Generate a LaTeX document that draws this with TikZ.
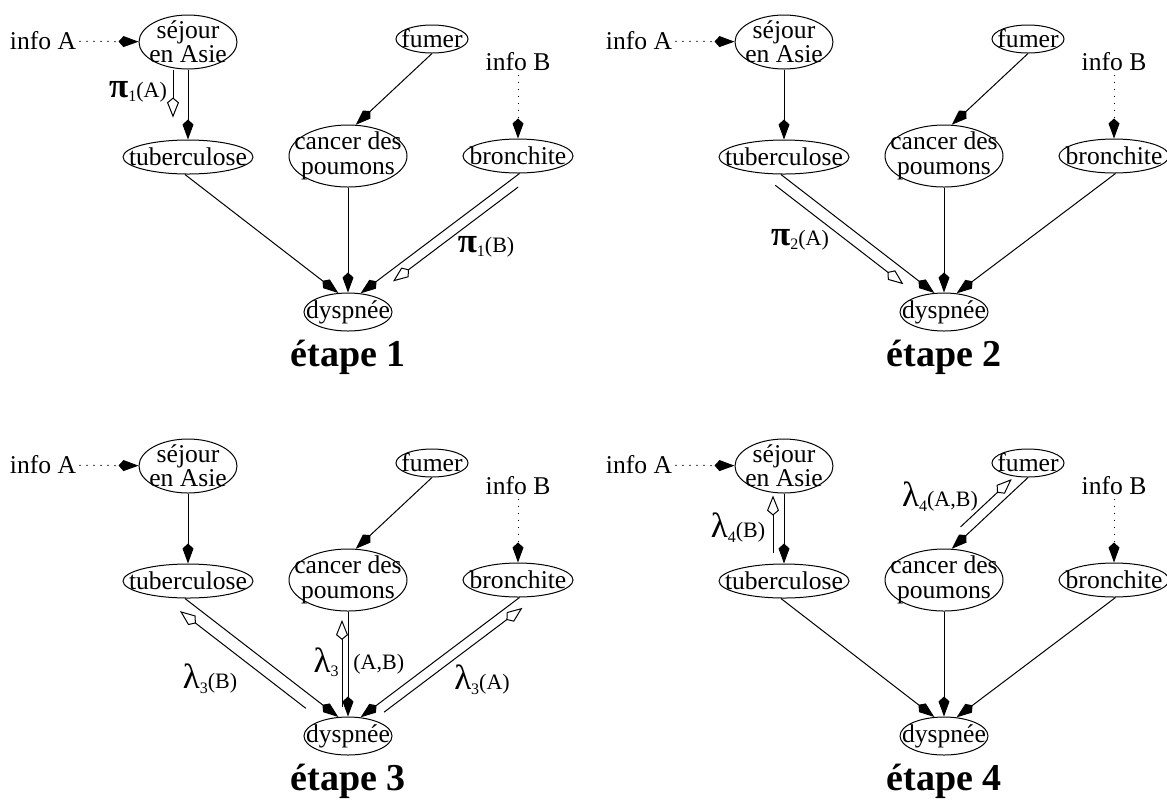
\documentclass[tikz,border=0pt]{standalone}
\usepackage{fontspec}
\setmainfont{Liberation Serif}
\usetikzlibrary{arrows.meta,calc,shapes.geometric}

\tikzset{
  ell/.style={draw, ellipse, inner sep=0pt, line width=0.5pt},
  txt/.style={inner sep=1.5pt, align=center, font=\fontsize{12.8}{12.2}\selectfont},
  edge/.style={line width=0.5pt, -{Kite[length=10pt,width=5.5pt,inset=2.5pt]}},
  infoedge/.style={edge, dash pattern=on 0.6pt off 2.9pt},
  msg/.style={line width=0.5pt, -{Kite[length=10pt,width=6pt,inset=2.5pt,fill=white]}},
  lbl/.style={inner sep=0pt},
  stage/.style={inner sep=0pt, font=\fontsize{19}{20}\selectfont\bfseries},
}

% Greek message name with index and evidence set
\newcommand\gk[3]{{\fontsize{17.5}{18}\selectfont #1}\raisebox{-0.45ex}{\fontsize{8}{8}\selectfont #2}{\fontsize{11}{12}\selectfont #3}}

% One copy of the network; #1,#2 shift, #3 name prefix, #4 stage number, #5 messages
\newcommand\network[5]{%
\begin{scope}[shift={(#1,#2)}, name prefix=#3-]
  \node[txt] (ia) at (43,41) {info A};
  \node[ell, minimum width=49pt, minimum height=27pt,
        label={[txt]center:{séjour\\en Asie}}] (sej) at (188,42) {};
  \node[ell, minimum width=36pt, minimum height=14pt,
        label={[txt]center:fumer}] (fum) at (432,39) {};
  \node[txt] (ib) at (518,62) {info B};
  \node[ell, minimum width=65pt, minimum height=17pt,
        label={[txt]center:tuberculose}] (tub) at (188,157) {};
  \node[ell, minimum width=59pt, minimum height=31pt,
        label={[txt]center:{cancer des\\poumons}}] (can) at (348,156) {};
  \node[ell, minimum width=55pt, minimum height=17pt,
        label={[txt]center:bronchite}] (bro) at (518,156) {};
  \node[ell, minimum width=44pt, minimum height=19pt,
        label={[txt]center:dyspnée}] (dys) at (348,312) {};
  \node[stage] (st) at (348,357) {étape #4};
  \draw[infoedge] (ia) -- (sej);
  \draw[edge] (sej) -- (tub);
  \draw[edge] (fum.south) -- (can.76);
  \draw[infoedge] (ib) -- (bro);
  \draw[edge] (tub.-100) -- (dys.117);
  \draw[edge] (can) -- (dys);
  \draw[edge] (bro.-85) -- (dys.56);
  #5
\end{scope}}

\begin{document}
\begin{tikzpicture}[x=0.5pt, y=-0.5pt]
\useasboundingbox (0,0) rectangle (1167,800);

% stage 1
\network{0}{0}{s1}{1}{%
  \coordinate (ma1) at ($(sej.south)!0pt!(tub.north)!7.5pt!-90:(tub.north)$);
  \coordinate (mb1) at ($(sej.south)!24pt!(tub.north)!7.5pt!-90:(tub.north)$);
  \draw[msg] (ma1) -- (mb1);
  \node[lbl] (la) at (138,92) {\gk{\bfseries π}{1}{(A)}};
  \coordinate (ma2) at ($(bro.-85)!4.7pt!(dys.56)!5pt!90:(dys.56)$);
  \coordinate (mb2) at ($(bro.-85)!83pt!(dys.56)!5pt!90:(dys.56)$);
  \draw[msg] (ma2) -- (mb2);
  \node[lbl] (lb) at (486,247) {\gk{\bfseries π}{1}{(B)}};
}

% stage 2
\network{596}{0}{s2}{2}{%
  \coordinate (ma1) at ($(tub.-100)!1pt!(dys.117)!6pt!-90:(dys.117)$);
  \coordinate (mb1) at ($(tub.-100)!82pt!(dys.117)!6pt!-90:(dys.117)$);
  \draw[msg] (ma1) -- (mb1);
  \node[lbl] (la) at (204,240) {\gk{\bfseries π}{2}{(A)}};
}

% stage 3
\network{0}{424}{s3}{3}{%
  \coordinate (ma1) at ($(tub.-100)!0.84!(dys.117)!6.5pt!-90:(dys.117)$);
  \coordinate (mb1) at ($(tub.-100)!0.02!(dys.117)!6.5pt!-90:(dys.117)$);
  \draw[msg] (ma1) -- (mb1);
  \node[lbl] (la) at (210,255) {\gk{λ}{3}{(B)}};
  \coordinate (ma2) at ($(can.south)!0.91!(dys.north)!3pt!-90:(dys.north)$);
  \coordinate (mb2) at ($(can.south)!0.08!(dys.north)!3pt!-90:(dys.north)$);
  \draw[msg] (ma2) -- (mb2);
  \node[lbl, anchor=east] (lc) at (339,238) {\gk{λ}{3}{}};
  \node[lbl, anchor=west, font=\fontsize{11}{12}\selectfont] (ld) at (353,240) {(A,B)};
  \coordinate (ma3) at ($(bro.-85)!0.89!(dys.56)!5pt!90:(dys.56)$);
  \coordinate (mb3) at ($(bro.-85)!0.02!(dys.56)!5pt!90:(dys.56)$);
  \draw[msg] (ma3) -- (mb3);
  \node[lbl] (lb) at (482,256) {\gk{λ}{3}{(A)}};
}

% stage 4
\network{596}{424}{s4}{4}{%
  \coordinate (ma1) at ($(sej.south)!29.5pt!(tub.north)!5.5pt!-90:(tub.north)$);
  \coordinate (mb1) at ($(sej.south)!1pt!(tub.north)!5.5pt!-90:(tub.north)$);
  \draw[msg] (ma1) -- (mb1);
  \node[lbl] (la) at (142,104) {\gk{λ}{4}{(B)}};
  \coordinate (ma2) at ($(fum.south)!41.5pt!(can.76)!5pt!-90:(can.76)$);
  \coordinate (mb2) at ($(fum.south)!6.5pt!(can.76)!5pt!-90:(can.76)$);
  \draw[msg] (ma2) -- (mb2);
  \node[lbl] (lb) at (344,73) {\gk{λ}{4}{(A,B)}};
}
\end{tikzpicture}
\end{document}
